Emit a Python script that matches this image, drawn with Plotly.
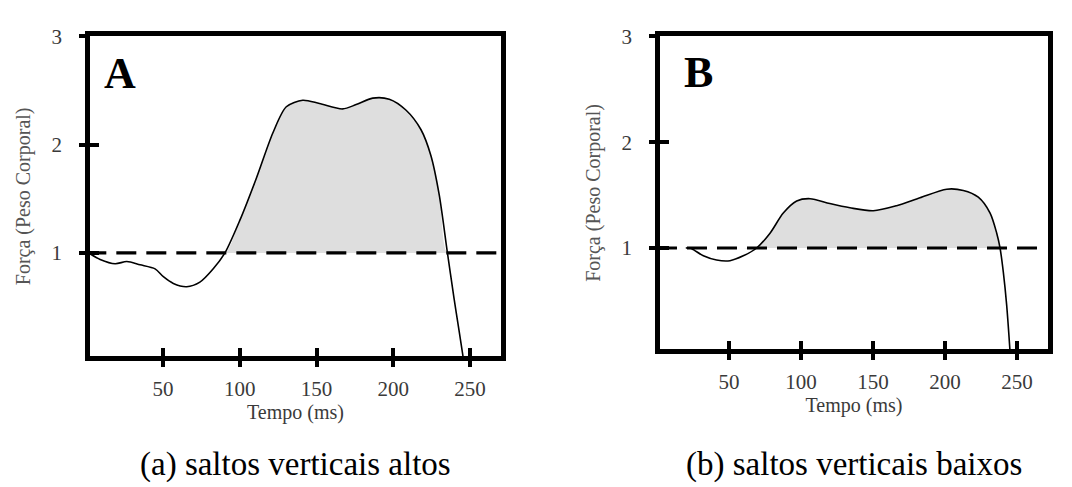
import numpy as np
import plotly.graph_objects as go

# ---------------- data ----------------
t_A = [1.5, 9, 18.8, 26.4, 35, 44.8, 50.2, 56.7, 65.4, 74, 82.7, 90.3, 100, 110.8, 121.6,
       130.3, 141, 151.9, 167, 175.8, 186.6, 197.4, 208.2, 218, 224.5, 229.9, 235.3,
       239.6, 242.9, 245.5]
f_A = [1.0, 0.94, 0.90, 0.92, 0.89, 0.853, 0.78, 0.718, 0.688, 0.73, 0.853, 1.0, 1.30, 1.69,
       2.11, 2.35, 2.41, 2.38, 2.33, 2.37, 2.43, 2.42, 2.32, 2.14, 1.90, 1.54, 1.0,
       0.58, 0.28, 0.04]

t_B = [20, 23, 25.8, 32.2, 41.4, 50.7, 59.9, 69.2, 78.5, 87.7, 97, 106.3, 120, 134, 150.2,
       166.4, 182.6, 201.2, 212.7, 223.1, 231.3, 235.9, 238.2, 240.5, 242.8, 245.1]
f_B = [1.0, 1.0, 0.98, 0.926, 0.886, 0.88, 0.926, 1.0, 1.14, 1.33, 1.444, 1.466, 1.42, 1.38,
       1.352, 1.40, 1.475, 1.556, 1.544, 1.48, 1.33, 1.14, 1.0, 0.77, 0.46, 0.03]

body_weight = 1.0
ref_span = [0, 268]
x_ticks = [50, 100, 150, 200, 250]
y_ticks = [1, 2, 3]
panel_labels = ["A", "B"]
captions = ["(a) saltos verticais altos", "(b) saltos verticais baixos"]
x_title = "Tempo (ms)"
y_title = "Força (Peso Corporal)"

FONT = "Liberation Serif, Times New Roman, DejaVu Serif, serif"
FILL = "#dedede"

fig = go.Figure()

panels = [
    dict(t=t_A, f=f_A, xa="x", ya="y", xi="x3", yi="y3",
         xdom=[90 / 1072, 501 / 1072], ydom=[(487 - 353) / 487, (487 - 25) / 487],
         xr=[2.4, 270.2], yr=[0.045, 3.0], lab=(22, 2.66)),
    dict(t=t_B, f=f_B, xa="x2", ya="y2", xi="x4", yi="y4",
         xdom=[660 / 1072, 1048 / 1072], ydom=[(487 - 346) / 487, (487 - 25) / 487],
         xr=[2.1, 271.5], yr=[0.041, 3.0], lab=(28.5, 2.66)),
]

for i, p in enumerate(panels):
    t = np.array(p["t"])
    f = np.array(p["f"])
    # baseline for the shaded area
    fig.add_trace(go.Scatter(x=t, y=np.full_like(f, body_weight), mode="lines",
                             line=dict(width=0, color="rgba(0,0,0,0)"),
                             xaxis=p["xa"], yaxis=p["ya"], showlegend=False, hoverinfo="skip"))
    fig.add_trace(go.Scatter(x=t, y=np.maximum(f, body_weight), mode="lines",
                             line=dict(width=0, color="rgba(0,0,0,0)", shape="spline"),
                             fill="tonexty", fillcolor=FILL,
                             xaxis=p["xa"], yaxis=p["ya"], showlegend=False, hoverinfo="skip"))
    # dashed body-weight line
    fig.add_trace(go.Scatter(x=ref_span, y=[body_weight, body_weight], mode="lines",
                             line=dict(color="black", width=3.2, dash="20px,10px"),
                             xaxis=p["xa"], yaxis=p["ya"], showlegend=False, hoverinfo="skip"))
    # force curve
    fig.add_trace(go.Scatter(x=t, y=f, mode="lines",
                             line=dict(color="black", width=1.6, shape="spline", smoothing=0.8),
                             xaxis=p["xa"], yaxis=p["ya"], showlegend=False, hoverinfo="skip"))
    # invisible trace for inner-tick overlay axes
    fig.add_trace(go.Scatter(x=[None], y=[None], xaxis=p["xi"], yaxis=p["yi"],
                             showlegend=False, hoverinfo="skip"))

    xk = "xaxis" if p["xa"] == "x" else "xaxis" + p["xa"][1:]
    yk = "yaxis" if p["ya"] == "y" else "yaxis" + p["ya"][1:]
    xik = "xaxis" + p["xi"][1:]
    yik = "yaxis" + p["yi"][1:]

    fig.update_layout({
        xk: dict(domain=p["xdom"], anchor=p["ya"], range=p["xr"], tickmode="array",
                 tickvals=x_ticks, ticks="outside", ticklen=6, tickwidth=4, tickcolor="black",
                 showline=True, linewidth=4.5, linecolor="black", mirror=True,
                 showgrid=False, zeroline=False, ticklabelstandoff=4,
                 tickfont=dict(family=FONT, size=21, color="#3a3a3a"),
                 title=dict(text=x_title, standoff=3,
                            font=dict(family=FONT, size=20, color="#3a3a3a"))),
        yk: dict(domain=p["ydom"], anchor=p["xa"], range=p["yr"], tickmode="array",
                 tickvals=y_ticks, ticks="outside", ticklen=6, tickwidth=4, tickcolor="black",
                 showline=True, linewidth=4.5, linecolor="black", mirror=True,
                 showgrid=False, zeroline=False, ticklabelstandoff=13,
                 tickfont=dict(family=FONT, size=21, color="#3a3a3a"),
                 title=dict(text=y_title, standoff=17,
                            font=dict(family=FONT, size=20, color="#555555"))),
        xik: dict(overlaying=p["xa"], anchor=p["yi"], range=p["xr"], tickmode="array",
                  tickvals=x_ticks, ticks="inside", ticklen=8, tickwidth=4, tickcolor="black",
                  showticklabels=False, showline=False, showgrid=False, zeroline=False),
        yik: dict(overlaying=p["ya"], anchor=p["xi"], range=p["yr"], tickmode="array",
                  tickvals=y_ticks, ticks="inside", ticklen=9, tickwidth=4, tickcolor="black",
                  showticklabels=False, showline=False, showgrid=False, zeroline=False),
    })

    fig.add_annotation(x=p["lab"][0], y=p["lab"][1], xref=p["xa"], yref=p["ya"],
                       text="<b>%s</b>" % panel_labels[i], showarrow=False,
                       font=dict(family=FONT, size=44, color="black"),
                       xanchor="center", yanchor="middle")
    fig.add_annotation(x=sum(p["xdom"]) / 2, y=(487 - 464) / 487, xref="paper", yref="paper",
                       text=captions[i], showarrow=False,
                       font=dict(family=FONT, size=33, color="black"),
                       xanchor="center", yanchor="middle")

fig.update_layout(width=1072, height=487, margin=dict(l=0, r=0, t=0, b=0),
                  paper_bgcolor="white", plot_bgcolor="white", showlegend=False)

fig.write_html("out.html")
